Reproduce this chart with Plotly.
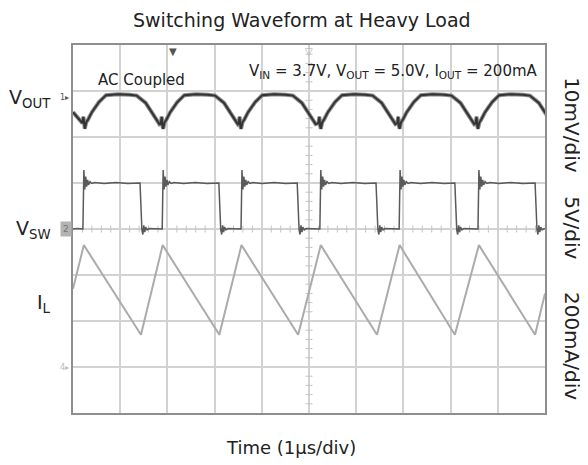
import plotly.graph_objects as go

# ---------------- data (x = time in µs = divisions, y = screen divisions from centre) ----------------
# Switch node (V_SW) edges
sw_rise_t = [0.21, 1.89, 3.56, 5.23, 6.91, 8.58]
sw_fall_t = [1.42, 3.09, 4.75, 6.42, 8.09, 9.79]
sw_low_div = 0.0
sw_high_div = 1.0
# ringing after each rising edge (offset µs, level div)
sw_rise_ring_off = [0.00, 0.02, 0.04, 0.06, 0.08, 0.10, 0.12, 0.15, 0.19, 0.25, 0.45, 0.70, 0.95]
sw_rise_ring_val = [0.00, 1.28, 0.86, 1.14, 0.92, 1.07, 0.96, 1.03, 0.99, 1.01, 0.99, 1.01, 0.99]
# ringing after each falling edge
sw_fall_ring_off = [0.00, 0.04, 0.06, 0.08, 0.10, 0.12, 0.15, 0.19]
sw_fall_ring_val = [1.00, -0.02, -0.12, 0.08, -0.07, 0.04, -0.02, 0.01]

# Inductor current I_L (triangle vertices)
il_t = [0.00, 0.23, 1.44, 1.90, 3.10, 3.57, 4.77, 5.25, 6.44, 6.92, 8.09, 8.60, 9.79, 10.00]
il_div = [-1.30, -0.35, -2.30, -0.35, -2.30, -0.35, -2.30, -0.35, -2.30, -0.35, -2.30, -0.35, -2.30, -1.40]

# Output ripple V_OUT (AC coupled) : trough times and one ripple cycle
vout_trough_t = [0.25, 1.91, 3.56, 5.25, 6.92, 8.58]
vout_cycle_off = [-0.05, -0.03, -0.015, 0.00, 0.03, 0.07, 0.15, 0.30, 0.45, 0.70, 0.95, 1.10, 1.29, 1.46, 1.58]
vout_cycle_val = [2.30, 2.44, 2.24, 2.18, 2.32, 2.38, 2.54, 2.76, 2.91, 2.93, 2.92, 2.90, 2.74, 2.48, 2.28]
vout_start_t = [0.00, 0.12]
vout_start_val = [2.54, 2.40]

# ---------------- build traces ----------------
sw_x, sw_y = [0.0, 0.1], [sw_low_div, sw_low_div + 0.01]
for r, f in zip(sw_rise_t, sw_fall_t):
    sw_x.append(r - 0.005); sw_y.append(sw_low_div)
    for o, v in zip(sw_rise_ring_off, sw_rise_ring_val):
        if r + o < f:
            sw_x.append(r + o); sw_y.append(v)
    sw_x.append(f); sw_y.append(sw_high_div)
    for o, v in zip(sw_fall_ring_off[1:], sw_fall_ring_val[1:]):
        sw_x.append(f + o); sw_y.append(v)
sw_x.append(10.0); sw_y.append(sw_low_div)

vo_x, vo_y = list(vout_start_t), list(vout_start_val)
for t0 in vout_trough_t:
    for o, v in zip(vout_cycle_off, vout_cycle_val):
        vo_x.append(t0 + o); vo_y.append(v)

fig = go.Figure()

# graticule minor ticks on the centre lines
tick_x = [i * 0.2 for i in range(51) if i % 5]
tick_y = [-4 + i * 0.2 for i in range(41) if i % 5]
fig.add_trace(go.Scatter(x=tick_x, y=[0] * len(tick_x), mode="markers",
                         marker=dict(symbol="line-ns", size=5, line=dict(width=1, color="#c4c4c4")),
                         hoverinfo="skip", showlegend=False))
fig.add_trace(go.Scatter(x=[5] * len(tick_y), y=tick_y, mode="markers",
                         marker=dict(symbol="line-ew", size=5, line=dict(width=1, color="#c4c4c4")),
                         hoverinfo="skip", showlegend=False))

fig.add_trace(go.Scatter(x=il_t, y=il_div, mode="lines",
                         line=dict(color="#ababab", width=2), showlegend=False))
fig.add_trace(go.Scatter(x=sw_x, y=sw_y, mode="lines",
                         line=dict(color="#5a5a5a", width=1.5), showlegend=False))
fig.add_trace(go.Scatter(x=vo_x, y=vo_y, mode="lines",
                         line=dict(color="#8a8a8a", width=4), showlegend=False))
fig.add_trace(go.Scatter(x=vo_x, y=vo_y, mode="lines",
                         line=dict(color="#333333", width=2), showlegend=False))

FONT = "DejaVu Sans, Liberation Sans, Arial, sans-serif"
# page body adds an 8px margin; size the figure so the plot area lands where the reference has it
fig.update_layout(
    width=580, height=457,
    margin=dict(l=65, r=43, t=37, b=52),
    paper_bgcolor="white", plot_bgcolor="white",
    font=dict(family=FONT, color="#222"),
    xaxis=dict(range=[0, 10], dtick=1, showgrid=True, gridcolor="#d2d2d2", gridwidth=1.5,
               showticklabels=False, ticks="", zeroline=False,
               showline=True, mirror=True, linecolor="#8e8e8e", linewidth=2),
    yaxis=dict(range=[-4, 4], dtick=1, showgrid=True, gridcolor="#d2d2d2", gridwidth=1.5,
               showticklabels=False, ticks="", zeroline=False,
               showline=True, mirror=True, linecolor="#8e8e8e", linewidth=2),
)

def ann(text, x, y, size, xanchor="center", yanchor="middle", angle=0, color="#222", **kw):
    # x, y given in screen divisions; converted to paper fractions of the plot area
    fig.add_annotation(text=text, x=x / 10.0, y=(y + 4) / 8.0, xref="paper", yref="paper",
                       showarrow=False, xanchor=xanchor, yanchor=yanchor, textangle=angle,
                       font=dict(family=FONT, size=size, color=color), **kw)

ann("Switching Waveform at Heavy Load", 4.85, 4.54, 19)
ann("V<sub>IN</sub> = 3.7V, V<sub>OUT</sub> = 5.0V, I<sub>OUT</sub> = 200mA", 9.89, 3.42, 15, xanchor="right")
ann("AC Coupled", 1.46, 3.24, 15)
ann("V<sub>OUT</sub>", -0.42, 2.83, 19, xanchor="right")
ann("V<sub>SW</sub>", -0.42, -0.02, 19, xanchor="right")
ann("I<sub>L</sub>", -0.42, -1.62, 19, xanchor="right")
ann("Time (1µs/div)", 4.62, -4.76, 18)
ann("10mV/div", 10.57, 2.26, 20, angle=90)
ann("5V/div", 10.57, 0.02, 20, angle=90)
ann("200mA/div", 10.57, -2.54, 20, angle=90)

# channel / trigger markers
ann("▼", 2.12, 4.02, 10, yanchor="top", color="#555")
ann("▽", 5.0, 4.02, 10, yanchor="top", color="#aaa")
ann("1▸", -0.04, 2.85, 8, xanchor="right", color="#555")
ann("2", -0.03, 0.0, 9, xanchor="right", color="#777", bgcolor="#b3b3b3", borderpad=2)
ann("4▸", -0.04, -3.0, 8, xanchor="right", color="#bbb")

fig.write_html("out.html")
